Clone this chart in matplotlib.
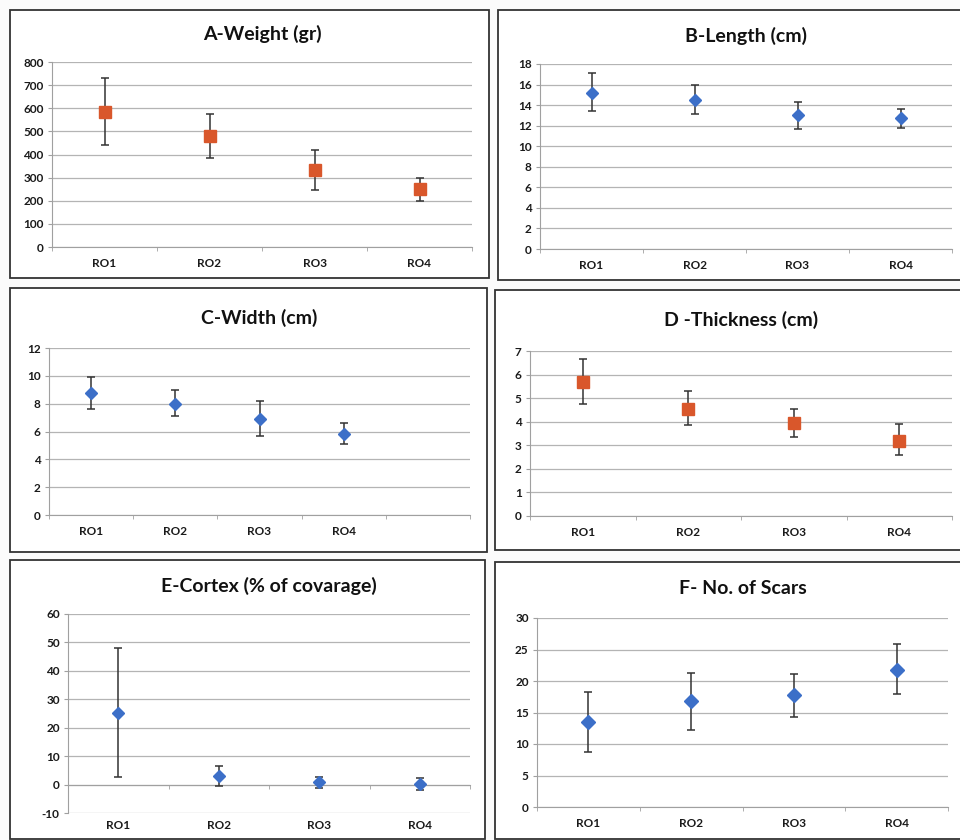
import numpy as np
import matplotlib
matplotlib.use("Agg")
import matplotlib.pyplot as plt
from matplotlib.patches import Rectangle
from matplotlib.transforms import offset_copy

plt.rcParams['font.family'] = ['Lato', 'DejaVu Sans']

categories = ["RO1", "RO2", "RO3", "RO4"]

# mean, lower end and upper end of the error bar
weight_mean = [585, 478, 333, 250]
weight_low = [440, 385, 245, 200]
weight_high = [730, 575, 420, 300]

length_mean = [15.2, 14.5, 13.0, 12.7]
length_low = [13.4, 13.1, 11.7, 11.8]
length_high = [17.1, 16.0, 14.3, 13.6]

width_mean = [8.75, 8.0, 6.9, 5.85]
width_low = [7.6, 7.1, 5.65, 5.1]
width_high = [9.95, 8.95, 8.2, 6.6]

thick_mean = [5.7, 4.55, 3.95, 3.2]
thick_low = [4.75, 3.85, 3.35, 2.6]
thick_high = [6.65, 5.3, 4.55, 3.9]

cortex_mean = [25.3, 3.0, 0.8, 0.2]
cortex_low = [2.5, -0.5, -1.2, -1.8]
cortex_high = [48.0, 6.5, 2.8, 2.2]

scars_mean = [13.5, 16.8, 17.7, 21.8]
scars_low = [8.8, 12.2, 14.3, 17.9]
scars_high = [18.2, 21.3, 21.1, 25.9]

ORANGE = '#D9572B'
BLUE = '#3C6FC8'
W, H = 960, 840

fig = plt.figure(figsize=(W / 100, H / 100), dpi=100)
fig.patch.set_facecolor('#FBFBFB')


def box(l, t, r, b):
    fig.patches.append(Rectangle((l / W, 1 - b / H), (r - l) / W, (b - t) / H,
                                 transform=fig.transFigure, fill=True,
                                 facecolor='white', edgecolor='#333333',
                                 linewidth=1.3, zorder=-5))


def panel(rect, title, title_y, mean, low, high, ylim, step, color, marker,
          ms, nslots=4, zero_axis=False, fs=8.5):
    l, t, r, b = rect
    ax = fig.add_axes([l / W, 1 - b / H, (r - l) / W, (b - t) / H])
    ax.set_facecolor('none')
    x = np.arange(1, len(mean) + 1)
    mean = np.array(mean)
    yerr = [mean - np.array(low), np.array(high) - mean]
    ax.errorbar(x, mean, yerr=yerr, fmt=marker, color=color, ms=ms,
                ecolor='#333333', elinewidth=1.1, capsize=3, capthick=1.1,
                zorder=3)
    ax.set_xlim(0.5, nslots + 0.5)
    ax.set_ylim(*ylim)
    ticks = np.arange(ylim[0], ylim[1] + step / 2, step)
    ax.set_yticks(ticks)
    ax.set_yticklabels([f"{v:g}" for v in ticks], fontsize=fs,
                       fontweight='bold', color='#1a1a1a')
    ax.yaxis.grid(True, color='#B4B4B4', linewidth=0.9)
    ax.set_axisbelow(True)
    ax.set_xticks(x)
    ax.set_xticklabels(categories, fontsize=fs, fontweight='bold',
                       color='#1a1a1a')
    ax.tick_params(axis='x', length=0, pad=8)
    ax.tick_params(axis='y', length=3, color='#A0A0A0', pad=3)
    ax.set_xticks(np.arange(0.5, nslots + 1), minor=True)
    ax.tick_params(axis='x', which='minor', length=3, color='#A0A0A0')
    for s in ['top', 'right']:
        ax.spines[s].set_visible(False)
    ax.spines['left'].set_color('#A0A0A0')
    ax.spines['bottom'].set_color('#A0A0A0')
    if zero_axis:
        # category axis crosses at 0, labels stay at the bottom
        ax.spines['bottom'].set_position(('data', 0))
        ax.xaxis.set_tick_params(labelbottom=False)
        trans = offset_copy(ax.transData, fig=fig, y=-5, units='points')
        for xi, c in zip(x, categories):
            ax.text(xi, ylim[0], c, ha='center', va='top', fontsize=fs,
                    fontweight='bold', color='#1a1a1a', transform=trans)
    cx = (l + r) / 2
    fig.text(cx / W, 1 - title_y / H, title, ha='center', va='center',
             fontsize=14, fontweight='bold', color='#111111')
    return ax


box(10, 10, 489, 278)
box(498, 10, 962, 280)
box(10, 288, 487, 552)
box(495, 290, 962, 550)
box(10, 560, 485, 839)
box(495, 562, 962, 839)

panel((52, 62, 472, 247), "A-Weight (gr)", 34, weight_mean, weight_low,
      weight_high, (0, 800), 100, ORANGE, 's', 8.5)
panel((540, 64, 952, 249), "B-Length (cm)", 36, length_mean, length_low,
      length_high, (0, 18), 2, BLUE, 'D', 6.5)
panel((49, 348, 470, 515), "C-Width (cm)", 318, width_mean, width_low,
      width_high, (0, 12), 2, BLUE, 'D', 6.5, nslots=5)
panel((530, 351, 952, 516), "D -Thickness (cm)", 320, thick_mean, thick_low,
      thick_high, (0, 7), 1, ORANGE, 's', 9)
panel((68, 614, 470, 813), "E-Cortex (% of covarage)", 586,
      cortex_mean, cortex_low, cortex_high, (-10, 60), 10, BLUE, 'D',
      6, zero_axis=True)
panel((537, 618, 948, 807), "F- No. of Scars", 588, scars_mean, scars_low,
      scars_high, (0, 30), 5, BLUE, 'D', 7)

fig.savefig("out.png", dpi=100, facecolor=fig.get_facecolor())
